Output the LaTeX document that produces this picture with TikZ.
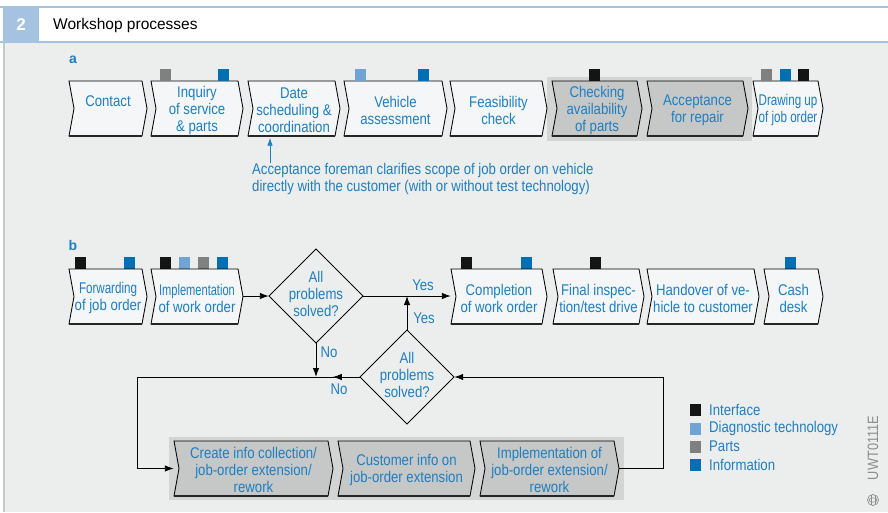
\documentclass[tikz,border=0pt]{standalone}
\usepackage{fontspec}
\usepackage{graphicx}
\setmainfont{Liberation Sans}[FakeStretch=0.85]
\newfontfamily\titlefont{Liberation Sans}
\usetikzlibrary{arrows.meta}
\definecolor{txtblue}{HTML}{1E7FC1}
\definecolor{infoblue}{HTML}{0070B2}
\definecolor{diagblue}{HTML}{70A4D4}
\definecolor{partsgray}{HTML}{808080}
\definecolor{ifblack}{HTML}{141414}
\definecolor{bggray}{HTML}{ECEDED}
\definecolor{hdrblue}{HTML}{A5C2E0}
\definecolor{boxlight}{HTML}{F4F6F7}
\definecolor{boxgray}{HTML}{C6C7C7}
\definecolor{halogray}{HTML}{D3D4D4}
\definecolor{logogray}{HTML}{8C8C8C}

\tikzset{
 boxtext/.style={text=txtblue, font=\fontsize{15.5}{17}\selectfont, align=center, inner sep=0pt},
 chevlight/.style={fill=boxlight, draw=black, line width=0.85pt},
 chevgray/.style={fill=boxgray, draw=black, line width=0.85pt},
 arr/.style={line width=0.9pt, -{Latex[length=9pt,width=6.5pt]}},
 lbl/.style={text=txtblue, font=\fontsize{15.5}{17}\selectfont, inner sep=0pt},
 dialine/.style={line width=0.9pt},
}

% name, left, right(top), top, bottom, style, text
\newcommand\chev[7]{%
 \draw[#6] (#2,#4) -- (#3,#4) -- ({#3+5},{(#4+#5)/2}) -- (#3,#5) -- (#2,#5) -- ({#2+5},{(#4+#5)/2}) -- cycle;
 \draw[line width=1.4pt, black!85] (#2,#5) -- (#3,#5);
 \node[boxtext, minimum width={#3-#2+5}, minimum height={#5-#4}] (#1) at ({(#2+#3)/2+2.5},{(#4+#5)/2+1.5}) {#7};}
% name, cx, cy
\newcommand\dia[3]{%
 \draw[dialine] ({#2-47},#3) -- (#2,{#3-47}) -- ({#2+47},#3) -- (#2,{#3+47}) -- cycle;
 \node[boxtext, minimum width=94, minimum height=94] (#1) at (#2,#3) {\raisebox{3pt}{\begin{tabular}{@{}c@{}}All\\problems\\solved?\end{tabular}}};}
\newcommand\sq[3]{\fill[#3] (#1,#2) rectangle ++(11,12);}
\newcommand\narrow[1]{\scalebox{0.88}[1]{#1}}

\begin{document}
\begin{tikzpicture}[x=1pt,y=-1pt]
\useasboundingbox (0,0) rectangle (888,512);
\fill[white] (0,0) rectangle (888,512);
\fill[bggray] (5,43) rectangle (888,512);
\fill[black!22] (3,43) rectangle (5,512);
% header
\fill[hdrblue] (0,6) rectangle (888,8);
\fill[hdrblue] (0,40.5) rectangle (888,43);
\fill[hdrblue] (3,6) rectangle (39,43);
\node[text=white, font=\titlefont\bfseries\fontsize{17}{17}\selectfont] (num) at (21,25) {2};
\node[anchor=west, font=\titlefont\fontsize{15.5}{17}\selectfont, inner sep=0pt] (title) at (53,25) {Workshop processes};

% section labels
\node[lbl, font=\titlefont\bfseries\fontsize{14}{14}\selectfont] (la) at (73,60) {a};
\node[lbl, font=\titlefont\bfseries\fontsize{14}{14}\selectfont] (lb) at (73,245) {b};

% row a
\fill[halogray] (547,77) rectangle (752,141);
\chev{contact}{69}{142}{81}{136}{chevlight}{Contact\\\phantom{C}}
\chev{inquiry}{151}{238}{81}{136}{chevlight}{Inquiry\\of service\\\& parts}
\chev{date}{248}{335}{81}{136}{chevlight}{Date\\scheduling \&\\coordination}
\chev{vehicle}{344}{442}{81}{136}{chevlight}{Vehicle\\assessment}
\chev{feas}{450}{542}{81}{136}{chevlight}{Feasibility\\check}
\chev{checking}{552}{637}{81}{136}{chevgray}{Checking\\availability\\of parts}
\chev{accept}{647}{743}{81}{136}{chevgray}{Acceptance\\for repair}
\chev{drawing}{753}{818}{81}{136}{chevlight}{\narrow{Drawing up}\\\narrow{of job order}}

\sq{160}{69}{partsgray}\sq{218}{69}{infoblue}
\sq{355}{69}{diagblue}\sq{418}{69}{infoblue}
\sq{589}{69}{ifblack}
\sq{761}{69}{partsgray}\sq{780}{69}{infoblue}\sq{798}{69}{ifblack}

\node[lbl, anchor=north west, align=left] (ann) at (252,163) {Acceptance foreman clarifies scope of job order on vehicle\\directly with the customer (with or without test technology)};
\draw[line width=0.8pt, draw=txtblue, -{Latex[length=8pt,width=5.5pt]}] ([xshift=18pt]ann.north west) -- ([xshift=18pt]ann.north west |- date.south);

% row b
\sq{75}{257}{ifblack}\sq{124}{257}{infoblue}
\sq{160}{257}{ifblack}\sq{179}{257}{diagblue}\sq{198}{257}{partsgray}\sq{217}{257}{infoblue}
\sq{461}{257}{ifblack}\sq{521}{257}{infoblue}
\sq{590}{257}{ifblack}
\sq{785}{257}{infoblue}

\chev{fwd}{69}{142}{269}{324}{chevlight}{\narrow{Forwarding}\\of job order}
\chev{impl}{151}{238}{269}{324}{chevlight}{\scalebox{0.84}[1]{Implementation}\\of work order}
\chev{compl}{451}{542}{269}{324}{chevlight}{Completion\\of work order}
\chev{final}{553}{639}{269}{324}{chevlight}{Final inspec-\\tion/test drive}
\chev{handover}{647}{754}{269}{324}{chevlight}{Handover of ve-\\hicle to customer}
\chev{cash}{764}{818}{269}{324}{chevlight}{Cash\\desk}

\dia{d1}{316}{296}
\dia{d2}{407}{377}

\fill[halogray] (169,437) rectangle (624,500);
\chev{create}{174}{328}{441}{496}{chevgray}{Create info collection/\\job-order extension/\\rework}
\chev{custinfo}{338}{470}{441}{496}{chevgray}{Customer info on\\job-order extension}
\chev{implext}{480}{614}{441}{496}{chevgray}{Implementation of\\job-order extension/\\rework}

% connectors
\coordinate (lpTL) at (137,377);
\coordinate (lpTR) at (663,377);
\coordinate (lpBR) at (663,468.5);
\draw[arr] (impl.east |- d1.west) -- (d1.west);
\draw[arr] (d1.east) -- (d1.east -| compl.west);
\draw[arr] (d2.north) -- (d2.north |- d1.east);
\draw[arr] (d1.south) -- (d1.south |- d2.west);
\draw[arr] (d2.west) -- ++(-27,0);
\draw[arr] (d2.west) -- (lpTL) -- (lpTL |- lpBR) -- (lpBR -| create.west);
\draw[arr] (lpBR -| implext.east) -- (lpBR) -- (lpTR) -- (d2.east);

\node[lbl] (yes1) at (423,285) {Yes};
\node[lbl] (yes2) at (424,318) {Yes};
\node[lbl] (no1) at (329,352) {No};
\node[lbl] (no2) at (339,389) {No};

% legend
\sq{690}{404}{ifblack}
\sq{690}{423}{diagblue}
\sq{690}{441}{partsgray}
\sq{690}{459}{infoblue}
\node[lbl, anchor=west] (lg1) at (709,410) {Interface};
\node[lbl, anchor=west] (lg2) at (709,428.5) {Diagnostic technology};
\node[lbl, anchor=west] (lg3) at (709,446.5) {Parts};
\node[lbl, anchor=west] (lg4) at (709,464.5) {Information};

% code and logo
\node[rotate=90, text=logogray, font=\fontsize{15}{15}\selectfont, inner sep=0pt] (uwt) at (873,448) {UWT0111E};
\draw[logogray, line width=0.7pt] (873,500) circle [radius=5.5pt];
\draw[logogray, line width=0.6pt] (873,500) ellipse [x radius=4pt, y radius=2.2pt];
\draw[logogray, line width=0.6pt] (871,495) -- (871,505) (875,495) -- (875,505);
\end{tikzpicture}
\end{document}
